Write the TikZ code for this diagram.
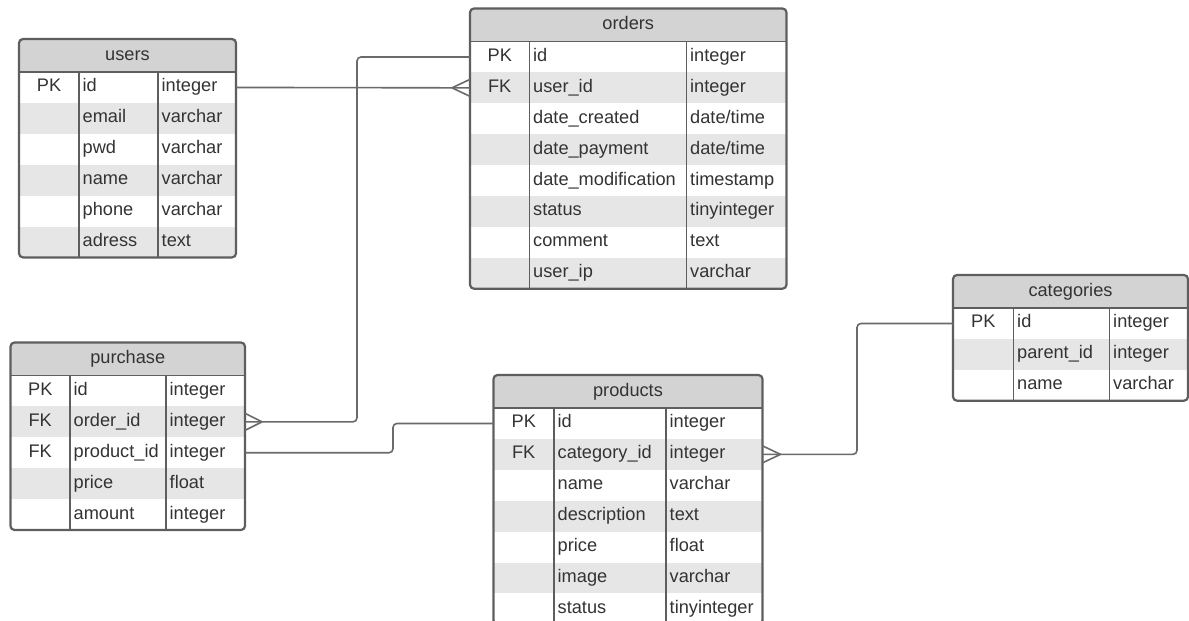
\documentclass[tikz,border=0pt]{standalone}
\usepackage{fontspec}
\setmainfont{Liberation Sans}
\definecolor{hdrfill}{HTML}{D3D3D3}
\definecolor{stripe}{HTML}{E6E6E6}
\definecolor{bordc}{HTML}{5E5E5E}
\definecolor{txtc}{HTML}{333333}
\definecolor{linec}{HTML}{6A6A6A}
\tikzset{
  rowbox/.style={draw=none, inner sep=0pt, outer sep=0pt, rectangle},
  celltxt/.style={inner sep=0pt, text=txtc, font=\fontsize{18.2}{21}\selectfont, text height=13pt, text depth=4pt},
  hdrtxt/.style={celltxt},
  tblborder/.style={draw=bordc, line width=2.2pt},
  coldiv/.style={draw=bordc, line width=1.8pt},
  conn/.style={draw=linec, line width=1.6pt, rounded corners=4pt},
  crow/.style={draw=linec, line width=1.6pt},
}
% #1 id, #2 title, #3 left, #4 right, #5 top, #6 col1, #7 col2, #8 number of rows, #9 rows
\newcommand{\ertable}[9]{%
  \pgfmathsetmacro{\hb}{#5+33}%
  \pgfmathsetmacro{\bt}{#5+33+#8*30.9}%
  \pgfmathsetmacro{\tw}{#4-#3}%
  \begin{scope}
    \clip[rounded corners=4pt] (#3,#5) rectangle (#4,\bt);
    \fill[white] (#3,#5) rectangle (#4,\bt);
    \fill[hdrfill] (#3,#5) rectangle (#4,\hb);
    \node[hdrtxt] (#1-title) at ({(#3+#4)/2},{(#5+\hb)/2}) {#2};
    \foreach \k/\n/\t [count=\i] in {#9} {
      \pgfmathsetmacro{\cy}{\hb+(\i-0.5)*30.9}
      \ifodd\i \def\rf{white}\else\def\rf{stripe}\fi
      \node[rowbox, fill=\rf, minimum width=\tw pt, minimum height=30.9pt] (#1-\i) at ({(#3+#4)/2},\cy) {};
      \node[celltxt] (#1-k\i) at ({(#3+#6)/2},\cy) {\k};
      \node[celltxt, anchor=west] (#1-n\i) at (#6+3.5,\cy) {\n};
      \node[celltxt, anchor=west] (#1-t\i) at (#7+3.5,\cy) {\t};
    }
  \end{scope}
  \draw[coldiv] (#3,\hb) -- (#4,\hb);
  \draw[coldiv] (#6,\hb) -- (#6,\bt);
  \draw[coldiv] (#7,\hb) -- (#7,\bt);
  \draw[tblborder, rounded corners=4pt] (#3,#5) rectangle (#4,\bt);
}
\begin{document}
\begin{tikzpicture}[x=1pt,y=-1pt]
\useasboundingbox (0,0) rectangle (1189,621);
\fill[white] (0,0) rectangle (1189,621);
\begin{scope}
\clip (0,0) rectangle (1189,621);

\ertable{users}{users}{19}{236}{39}{79}{158}{6}{PK/id/integer, {}/email/varchar, {}/pwd/varchar, {}/name/varchar, {}/phone/varchar, {}/adress/text}

\ertable{orders}{orders}{470}{786.5}{8.5}{529.5}{686.5}{8}{PK/id/integer, FK/user\_id/integer, {}/date\_created/{date/time}, {}/date\_payment/{date/time}, {}/date\_modification/timestamp, {}/status/tinyinteger, {}/comment/text, {}/user\_ip/varchar}

\ertable{purchase}{purchase}{10.5}{245}{342.5}{70}{166}{5}{PK/id/integer, FK/order\_id/integer, FK/product\_id/integer, {}/price/float, {}/amount/integer}

\ertable{products}{products}{493.5}{762.5}{375}{554}{666}{7}{PK/id/integer, FK/category\_id/integer, {}/name/varchar, {}/description/text, {}/price/float, {}/image/varchar, {}/status/tinyinteger}

\ertable{categories}{categories}{953}{1188}{275}{1013.5}{1109.5}{3}{PK/id/integer, {}/parent\_id/integer, {}/name/varchar}

% junction coordinates
\coordinate (j1) at (357,200);
\coordinate (j2) at (393,440);
\coordinate (j3) at (857,400);

% users.id -> orders.user_id
\draw[conn] (users-1.east) -- (orders-2.west);
\draw[crow] ([xshift=-18pt]orders-2.west) -- ([yshift=8.5pt]orders-2.west);
\draw[crow] ([xshift=-18pt]orders-2.west) -- ([yshift=-8.5pt]orders-2.west);

% orders.id -> purchase.order_id
\draw[conn] (orders-1.west) -- (orders-1.west -| j1) |- (purchase-2.east);
\draw[crow] ([xshift=17pt]purchase-2.east) -- ([yshift=8.5pt]purchase-2.east);
\draw[crow] ([xshift=17pt]purchase-2.east) -- ([yshift=-8.5pt]purchase-2.east);

% purchase.product_id -> products.id
\draw[conn] (purchase-3.east) -- (purchase-3.east -| j2) |- (products-1.west);

% products.category_id -> categories.id
\draw[conn] (products-2.east) -- (products-2.east -| j3) |- (categories-1.west);
\draw[crow] ([xshift=18pt]products-2.east) -- ([yshift=8.5pt]products-2.east);
\draw[crow] ([xshift=18pt]products-2.east) -- ([yshift=-8.5pt]products-2.east);
\end{scope}
\end{tikzpicture}
\end{document}
